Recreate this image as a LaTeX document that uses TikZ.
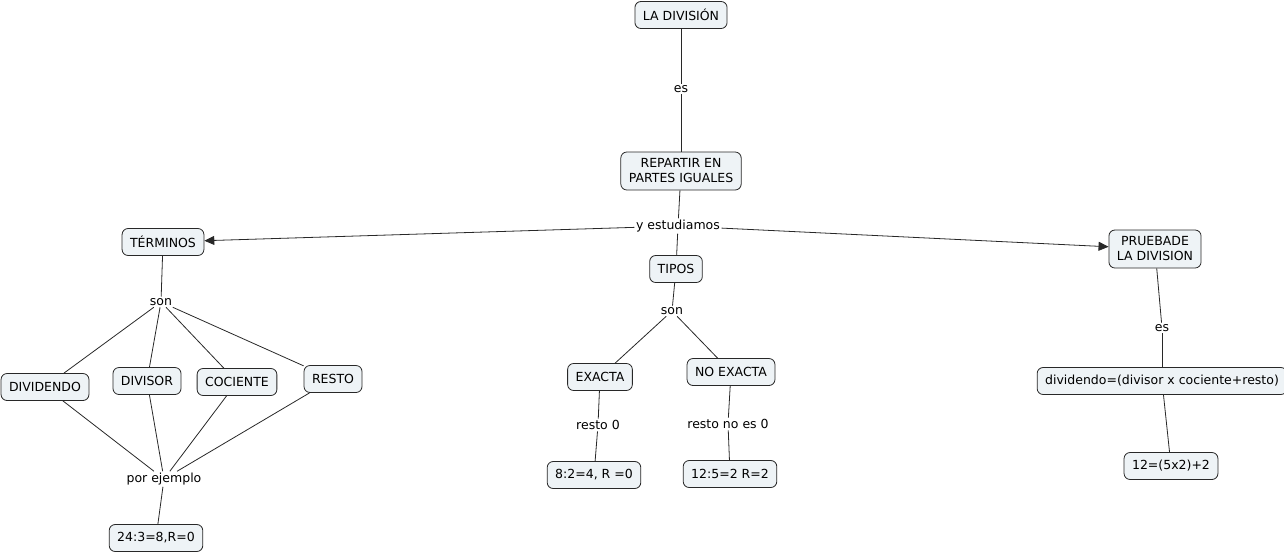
\documentclass[tikz,border=0pt]{standalone}
\usepackage{fontspec}
\setmainfont{DejaVu Sans}
\usetikzlibrary{arrows.meta}
\definecolor{cfill}{RGB}{238,243,246}
\definecolor{cline}{RGB}{40,40,40}
\newcommand{\cmfont}{\fontsize{12.5}{15}\selectfont}
\begin{document}
\begin{tikzpicture}[x=1pt,y=-1pt,
  concept/.style={draw=cline, fill=cfill, rounded corners=6pt, font=\cmfont, inner xsep=8pt, inner ysep=3pt, minimum height=27pt, align=center, line width=0.8pt},
  lbl/.style={font=\cmfont, inner sep=1.5pt, fill=white},
  link/.style={draw=cline, line width=0.8pt},
  arr/.style={link, -{Triangle[length=10pt,width=9pt]}}]
\useasboundingbox (0,0) rectangle (1284,555);
% concepts
\node[concept] (div) at (681,15) {LA DIVISIÓN};
\node[concept, minimum height=38pt] (rep) at (681,171) {REPARTIR EN\\PARTES IGUALES};
\node[concept] (ter) at (163,242) {TÉRMINOS};
\node[concept] (tip) at (676,269) {TIPOS};
\node[concept, minimum height=38pt] (pru) at (1155,249) {PRUEBADE\\LA DIVISION};
\node[concept] (dvd) at (45,387) {DIVIDENDO};
\node[concept] (dvs) at (147,381) {DIVISOR};
\node[concept] (coc) at (237,382) {COCIENTE};
\node[concept] (res) at (333,379) {RESTO};
\node[concept] (ej1) at (156,538) {24:3=8,R=0};
\node[concept] (exa) at (600,377) {EXACTA};
\node[concept] (noe) at (731,372) {NO EXACTA};
\node[concept] (ej2) at (594,475) {8:2=4, R =0};
\node[concept] (ej3) at (730,474) {12:5=2 R=2};
\node[concept] (frm) at (1162,381) {dividendo=(divisor x cociente+resto)};
\node[concept] (ej4) at (1171,466) {12=(5x2)+2};
% linking phrases
\node[lbl] (l1) at (681,89) {es};
\node[lbl] (l2) at (678,226) {y estudiamos};
\node[lbl] (l3) at (161,302) {son};
\node[lbl] (l4) at (164,479) {por ejemplo};
\node[lbl] (l5) at (672,311) {son};
\node[lbl] (l6) at (598,425) {resto 0};
\node[lbl] (l7) at (728,424) {resto no es 0};
\node[lbl] (l8) at (1162,328) {es};
% connectors
\draw[link] (div) -- (l1);
\draw[link] (l1) -- (rep);
\draw[link] (rep) -- (l2);
\draw[arr] (l2) -- (ter);
\draw[link] (l2) -- (tip);
\draw[arr] (l2) -- (pru);
\draw[link] (ter) -- (l3);
\draw[link] (l3) -- (dvd);
\draw[link] (l3) -- (dvs);
\draw[link] (l3) -- (coc);
\draw[link] (l3) -- (res);
\draw[link] (dvd) -- (l4);
\draw[link] (dvs) -- (l4);
\draw[link] (coc) -- (l4);
\draw[link] (res) -- (l4);
\draw[link] (l4) -- (ej1);
\draw[link] (tip) -- (l5);
\draw[link] (l5) -- (exa);
\draw[link] (l5) -- (noe);
\draw[link] (exa) -- (l6);
\draw[link] (l6) -- (ej2);
\draw[link] (noe) -- (l7);
\draw[link] (l7) -- (ej3);
\draw[link] (pru) -- (l8);
\draw[link] (l8) -- (frm);
\draw[link] (frm) -- (ej4);
\end{tikzpicture}
\end{document}
